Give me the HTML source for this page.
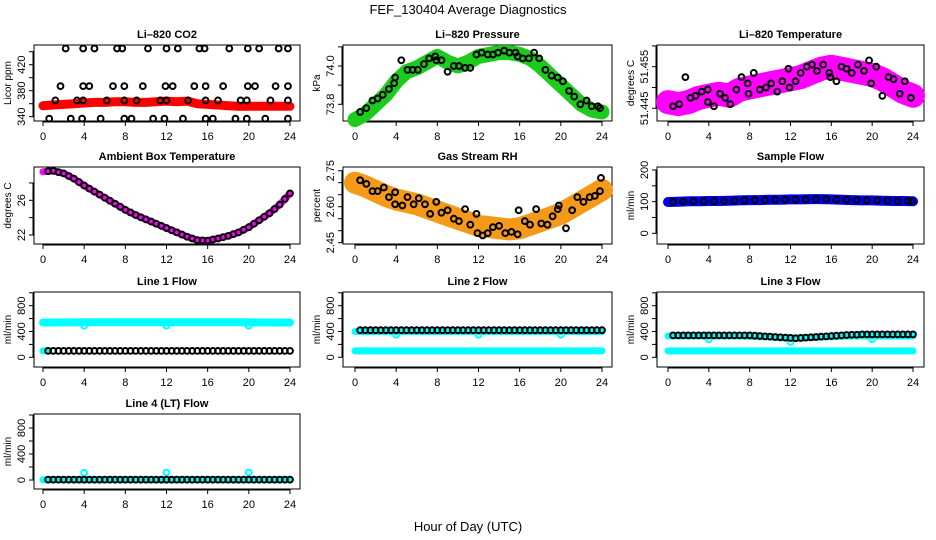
<!DOCTYPE html>
<html><head><meta charset="utf-8"><style>
html,body{margin:0;padding:0;background:#fff}
svg{display:block;font-family:"Liberation Sans",sans-serif}
</style></head><body>
<svg id="chart" width="936" height="540" viewBox="0 0 936 540" xmlns="http://www.w3.org/2000/svg">
<rect width="936" height="540" fill="#fff"/>
<text x="468" y="14" text-anchor="middle" font-size="13">FEF_130404  Average Diagnostics</text>
<text x="468" y="531" text-anchor="middle" font-size="13">Hour of Day (UTC)</text>
</svg>
<script>
const hours25=[0,1,2,3,4,5,6,7,8,9,10,11,12,13,14,15,16,17,18,19,20,21,22,23,24];
const half=[0.5,1,1.5,2,2.5,3,3.5,4,4.5,5,5.5,6,6.5,7,7.5,8,8.5,9,9.5,10,10.5,11,11.5,12,12.5,13,13.5,14,14.5,15,15.5,16,16.5,17,17.5,18,18.5,19,19.5,20,20.5,21,21.5,22,22.5,23,23.5,24];
const xTicks=[0,4,8,12,16,20,24];

const co2Band=[357,358,359,360,361,362,362,363,363,362,362,363,364,363,364,360,359,358,357,356,356,356,356,356,356];
const co2PtsX=[2.2,3.9,5.0,7.2,7.7,10.2,12.0,13.1,15.2,15.7,18.1,19.9,21.0,22.9,23.8,1.7,3.9,4.5,6.8,7.9,9.7,11.9,12.6,14.7,15.8,17.5,19.9,20.6,22.6,23.8,1.2,3.3,3.9,6.2,7.9,9.1,11.4,12.0,14.1,15.8,17.0,19.2,19.8,22.1,23.8,0.6,2.7,3.8,5.6,7.9,8.6,10.7,11.8,13.6,15.8,16.5,18.7,19.8,21.6,23.8];
const co2PtsY=[445,445,445,445,445,445,445,445,445,445,445,445,445,445,445,387,387,387,387,387,387,387,387,387,387,387,387,387,387,387,365,365,365,365,365,365,365,365,365,365,365,365,365,365,365,337,337,337,337,337,337,337,337,337,337,337,337,337,337,337];

const presBand=[73.72,73.75,73.8,73.85,73.92,73.97,73.99,74.02,74.05,74.02,74.0,74.02,74.05,74.06,74.07,74.07,74.06,74.04,74.0,73.95,73.9,73.85,73.8,73.77,73.76];
const presPtsX=[0.5,1.1,1.7,2.2,2.7,3.3,3.8,3.9,4.5,5.1,5.6,6.1,6.7,7.2,7.8,7.9,8.4,9.0,9.6,10.1,10.7,11.2,11.8,12.3,12.9,13.4,13.9,14.5,15.0,15.6,15.8,16.3,16.9,17.4,17.9,18.5,19.1,19.7,20.2,20.8,21.3,21.9,22.5,23.0,23.6,23.8];
const presPtsY=[73.76,73.78,73.82,73.83,73.85,73.88,73.91,73.94,74.03,73.98,73.98,73.98,74.01,74.04,74.05,74.03,74.03,73.97,74.0,74.0,73.99,73.99,74.06,74.07,74.06,74.06,74.07,74.08,74.07,74.07,74.05,74.04,74.04,74.07,74.04,73.98,73.95,73.94,73.92,73.87,73.84,73.8,73.82,73.79,73.79,73.78];

const ltBand=[51.4465,51.446,51.4465,51.4475,51.448,51.4485,51.448,51.4495,51.45,51.4505,51.451,51.4515,51.452,51.4525,51.4535,51.4545,51.455,51.4545,51.454,51.4535,51.453,51.452,51.4505,51.449,51.448];
const ltPtsX=[0.5,1.1,1.7,2.2,2.7,3.3,3.9,3.9,4.5,5.1,5.6,6.1,6.7,7.2,7.8,7.9,8.4,9.0,9.6,10.1,10.7,11.2,11.8,11.9,12.5,13.0,13.6,14.1,14.6,15.2,15.8,15.9,16.5,17.0,17.5,18.0,18.6,19.2,19.7,19.9,20.4,21.0,21.6,22.1,22.7,23.2,23.8];
const ltPtsY=[51.4455,51.446,51.4525,51.4475,51.448,51.449,51.4495,51.4465,51.4455,51.4485,51.4475,51.446,51.4495,51.4525,51.451,51.4485,51.4535,51.4495,51.45,51.451,51.449,51.4515,51.4545,51.45,51.4515,51.4535,51.455,51.4555,51.454,51.4555,51.4535,51.4525,51.4515,51.455,51.4545,51.4535,51.4555,51.454,51.4565,51.451,51.455,51.448,51.4525,51.452,51.4485,51.4515,51.4475];

const ambBand=[29.3,29.4,29.1,28.5,27.7,27.0,26.3,25.6,24.9,24.3,23.8,23.3,22.8,22.3,21.8,21.4,21.35,21.6,21.9,22.3,22.9,23.7,24.5,25.5,26.8];

const rhBand=[2.70,2.685,2.665,2.645,2.63,2.62,2.61,2.595,2.58,2.565,2.55,2.535,2.52,2.515,2.51,2.505,2.51,2.525,2.54,2.555,2.57,2.595,2.62,2.645,2.67];
const rhPtsX=[0.5,1.1,1.7,2.2,2.8,3.3,3.9,3.9,4.6,5.1,5.7,6.2,6.8,7.3,7.9,8.4,9.0,9.6,10.1,10.7,11.2,11.8,11.9,12.4,12.9,13.4,14.0,14.6,15.2,15.8,15.9,16.5,17.0,17.6,18.1,18.7,19.2,19.7,19.8,20.5,21.1,21.6,22.2,22.8,23.3,23.8,23.9];
const rhPtsY=[2.71,2.695,2.665,2.665,2.68,2.64,2.66,2.61,2.605,2.64,2.61,2.635,2.61,2.57,2.62,2.575,2.585,2.55,2.54,2.59,2.525,2.57,2.49,2.48,2.49,2.515,2.52,2.49,2.495,2.485,2.585,2.54,2.525,2.59,2.53,2.525,2.56,2.59,2.605,2.51,2.585,2.64,2.62,2.64,2.645,2.665,2.72];

const sfBand=[99,100,101,101,102,102,103,104,105,105,106,106,107,107,108,108,107,106,105,104,104,103,102,102,101];

const l1Hi=[540,540,541,541,542,542,543,543,543,543,543,543,543,543,543,543,543,543,542,542,541,541,540,540,540];
const l1DipX=[4,12,20];
const l1DipY=[490,490,490];
const l1Black=[100,100,100,100,100,100,100,100,100,100,100,100,100,100,100,100,100,100,100,100,100,100,100,100,100,100,100,100,100,100,100,100,100,100,100,100,100,100,100,100,100,100,100,100,100,100,100,100];
const l2Mid=[400,400,400,400,400,400,400,400,400,400,400,400,400,400,400,400,400,400,400,400,400,400,400,400,400];
const l2Lo=[100,100,100,100,100,100,100,100,100,100,100,100,100,100,100,100,100,100,100,100,100,100,100,100,100];
const l2DipX=[4,12,20];
const l2DipY=[350,350,350];
const l2Black=[420,420,420,420,420,420,420,420,420,420,420,420,420,420,420,420,420,420,420,420,420,420,420,420,420,420,420,420,420,420,420,420,420,420,420,420,420,420,420,420,420,420,420,420,420,420,420,420];
const l3Mid=[330,330,330,330,330,330,330,330,325,320,315,305,300,300,305,315,320,325,330,330,330,330,330,330,330];
const l3Lo=[100,100,100,100,100,100,100,100,100,100,100,100,100,100,100,100,100,100,100,100,100,100,100,100,100];
const l3DipX=[4,12,20];
const l3DipY=[280,240,280];
const l3Black=[340,340,340,340,340,340,340,340,340,340,340,340,340,340,340,340,335,330,325,320,315,310,305,300,295,300,305,310,315,320,325,330,335,340,345,350,350,355,355,355,355,355,355,355,355,355,355,355];
const l4Lo=[5,5,5,5,5,5,5,5,5,5,5,5,5,5,5,5,5,5,5,5,5,5,5,5,5];
const l4SpikeX=[4,12,20];
const l4SpikeY=[110,115,115];
const l4Black=[5,5,5,5,5,5,5,5,5,5,5,5,5,5,5,5,5,5,5,5,5,5,5,5,5,5,5,5,5,5,5,5,5,5,5,5,5,5,5,5,5,5,5,5,5,5,5,5];

const NS='http://www.w3.org/2000/svg';
const svg=document.getElementById('chart');
function el(tag,attrs,parent){const e=document.createElementNS(NS,tag);for(const k in attrs)e.setAttribute(k,attrs[k]);(parent||svg).appendChild(e);return e;}

const cols=[{l:34,r:300,x0:43,x24:290},{l:343,r:612,x0:355,x24:602},{l:657,r:924,x0:668,x24:913}];
const rows=[{t:45,b:121},{t:167,b:244},{t:292,b:367},{t:414,b:489}];

function panel(name,c,r,title,ylab,v1,p1,v2,p2,ticks,labels,fmt){
  const C=cols[c],R=rows[r];
  const g=el('g',{});
  
  
  const xs=h=>C.x0+(C.x24-C.x0)*h/24;
  const ys=v=>p1+(v-v1)*(p2-p1)/(v2-v1);
  const t=el('text',{x:(C.l+C.r)/2,y:R.t-7,'text-anchor':'middle','font-size':11,'font-weight':'bold'},g);
  t.textContent=title;
  
  
  const yl=el('text',{transform:`translate(${C.l-23},${(R.t+R.b)/2}) rotate(-90)`,'text-anchor':'middle','font-size':10},g);
  yl.textContent=ylab;
  
  
  const box=el('rect',{x:C.l,y:R.t,width:C.r-C.l,height:R.b-R.t,fill:'none',stroke:'#000','stroke-width':1},g);
  
  
  const xa=el('g',{},g);
  
  
  el('line',{x1:xs(0),x2:xs(24),y1:R.b+1,y2:R.b+1,stroke:'#000'},xa);
  xTicks.forEach(h=>{
    el('line',{x1:xs(h),x2:xs(h),y1:R.b,y2:R.b+5,stroke:'#000'},xa);
    const tl=el('text',{x:xs(h),y:R.b+19,'text-anchor':'middle','font-size':11},xa);
    tl.textContent=h;
    
    
  });
  const ya=el('g',{},g);
  
  
  el('line',{x1:C.l-1,x2:C.l-1,y1:ys(ticks[0]),y2:ys(ticks[ticks.length-1]),stroke:'#000'},ya);
  ticks.forEach(v=>{
    el('line',{x1:C.l-5,x2:C.l,y1:ys(v),y2:ys(v),stroke:'#000'},ya);
  });
  labels.forEach(v=>{
    const tl=el('text',{transform:`translate(${C.l-9},${ys(v)}) rotate(-90)`,'text-anchor':'middle','font-size':11},ya);
    tl.textContent=fmt?fmt(v):v;
    
    
  });
  return {g,xs,ys};
}
function band(P,name,xArr,yArr,color,w){
  const pts=xArr.map((h,i)=>P.xs(h).toFixed(1)+','+P.ys(yArr[i]).toFixed(1)).join(' ');
  const pl=el('polyline',{points:pts,fill:'none',stroke:color,'stroke-width':w,'stroke-linecap':'round','stroke-linejoin':'round'},P.g);
  
  
}
function points(P,name,xArr,yArr,color,r){
  const g=el('g',{},P.g);
  
  
  xArr.forEach((h,i)=>{
    const c=el('circle',{cx:P.xs(h),cy:P.ys(yArr[i]),r:r||2.9,fill:'none',stroke:color,'stroke-width':2},g);
    
    
  });
}

let P=panel('co2',0,0,'Li\u2013820 CO2','Licor ppm',340,116.7,440,51.7,[340,360,380,400,420,440],[340,380,420]);
band(P,'co2-band',hours25,co2Band,'#ff0000',9);
points(P,'co2-points',co2PtsX,co2PtsY,'#000');

P=panel('pressure',1,0,'Li\u2013820 Pressure','kPa',73.8,104.3,74.0,66,[73.8,73.9,74.0,74.1],[73.8,74.0],v=>v.toFixed(1));
band(P,'pressure-band',hours25,presBand,'#1ccc1c',15);
points(P,'pressure-points',presPtsX,presPtsY,'#000');

P=panel('li-temp',2,0,'Li\u2013820 Temperature','degrees C',51.445,108.3,51.455,66.7,[51.445,51.45,51.455,51.46],[51.445,51.455],v=>v.toFixed(3));
band(P,'li-temp-band',hours25,ltBand,'#ff00ff',24);
points(P,'li-temp-points',ltPtsX,ltPtsY,'#000');

P=panel('ambient',0,1,'Ambient Box Temperature','degrees C',22,235,26,200.3,[22,24,26,28],[22,26]);
band(P,'ambient-band',hours25,ambBand,'#ff00ff',7);
points(P,'ambient-points',half,half.map((h,i)=>{const k=Math.floor(h),fr=h-k;return k>=24?ambBand[24]:ambBand[k]+(ambBand[k+1]-ambBand[k])*fr;}),'#000');

P=panel('rh',1,1,'Gas Stream RH','percent',2.45,242.7,2.75,170.7,[2.45,2.5,2.55,2.6,2.65,2.7,2.75],[2.45,2.6,2.75],v=>v.toFixed(2));
band(P,'rh-band',hours25,rhBand,'#f49a18',22);
points(P,'rh-points',rhPtsX,rhPtsY,'#000');

P=panel('sample-flow',2,1,'Sample Flow','ml/min',0,233.3,200,170,[0,50,100,150,200],[0,100,200]);
band(P,'sample-flow-band',hours25,sfBand,'#0000ee',10);
points(P,'sample-flow-points',hours25.slice(1).map(h=>h-0.5).concat([23.9]),sfBand.slice(0,24).concat([101]),'#000');

const flowTicks=[0,200,400,600,800,1000], flowLabels=[0,400,800];
P=panel('line1',0,2,'Line 1 Flow','ml/min',0,357.3,800,305.7,flowTicks,flowLabels);
band(P,'line1-cyan-high',hours25,l1Hi,'#00ffff',8);
band(P,'line1-cyan-low',[0,0.4],[100,100],'#00ffff',7);
points(P,'line1-cyan-dips',l1DipX,l1DipY,'#00ffff');
points(P,'line1-points',half,l1Black,'#000');

P=panel('line2',1,2,'Line 2 Flow','ml/min',0,357.3,800,305.7,flowTicks,flowLabels);
band(P,'line2-cyan-mid',hours25,l2Mid,'#00ffff',7);
band(P,'line2-cyan-low',hours25,l2Lo,'#00ffff',7);
points(P,'line2-cyan-dips',l2DipX,l2DipY,'#00ffff');
points(P,'line2-points',half,l2Black,'#000');

P=panel('line3',2,2,'Line 3 Flow','ml/min',0,357.3,800,305.7,flowTicks,flowLabels);
band(P,'line3-cyan-mid',hours25,l3Mid,'#00ffff',7);
band(P,'line3-cyan-low',hours25,l3Lo,'#00ffff',7);
points(P,'line3-cyan-dips',l3DipX,l3DipY,'#00ffff');
points(P,'line3-points',half,l3Black,'#000');

P=panel('line4',0,3,'Line 4 (LT) Flow','ml/min',0,480,400,454,flowTicks,flowLabels);
band(P,'line4-cyan-low',hours25,l4Lo,'#00ffff',7);
points(P,'line4-cyan-spikes',l4SpikeX,l4SpikeY,'#00ffff');
points(P,'line4-points',half,l4Black,'#000');
</script>
</body></html>
